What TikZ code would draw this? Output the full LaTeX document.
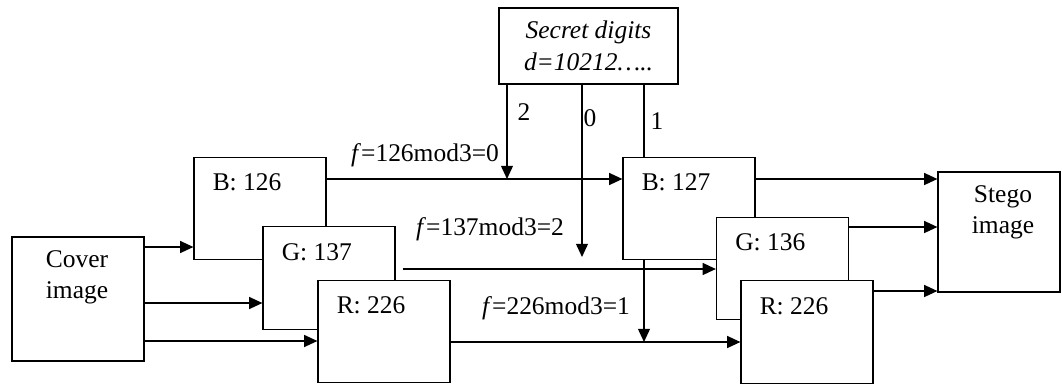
\documentclass[tikz,border=0pt]{standalone}
\usepackage{fontspec}
\setmainfont{Liberation Serif}
\usepackage{tikz}
\usetikzlibrary{arrows.meta,positioning,backgrounds}

\tikzset{
  box/.style={draw, fill=white, inner sep=0pt, line width=0.7pt},
  chan/.style={box, minimum width=2.64cm, minimum height=2.05cm},
  txt/.style={font=\fontsize{14.5}{17.6}\selectfont, inner sep=0pt},
  arr/.style={line width=0.7pt, -{Triangle[length=7.5pt,width=6.8pt]}},
  ln/.style={line width=0.7pt}
}

\begin{document}
\begin{tikzpicture}
  \begin{scope}[x=0.02cm, y=-0.02cm]
    \useasboundingbox (0,0) rectangle (1062,383);

    % Cover image
    \node[box, minimum width=2.64cm, minimum height=2.48cm] (cover) at (78,299) {};
    \node[txt, align=center] (covert) at (77,277) {Cover\\image};

    % Channels of the cover pixel
    \node[chan] (b1) at (260,208.5) {};
    \node[txt, anchor=west] (b1t) at ([shift={(19,26)}]b1.north west) {B: 126};
    \node[chan] (g1) at (329,278) {};
    \node[txt, anchor=west] (g1t) at ([shift={(19,26)}]g1.north west) {G: 137};
    \node[chan] (r1) at (384,331.5) {};
    \node[txt, anchor=west] (r1t) at ([shift={(19,26)}]r1.north west) {R: 226};

    % Secret digits
    \node[box, txt, font=\fontsize{14.5}{18}\selectfont\itshape, align=center,
          minimum width=3.58cm, minimum height=1.52cm] (secret) at (588.5,46)
          {Secret digits\\d=10212\ldots..};

    % Channels of the stego pixel
    \node[chan] (b2) at (689,208.5) {};
    \node[txt, anchor=west] (b2t) at ([shift={(19,26)}]b2.north west) {B: 127};
    \node[chan] (g2) at (782.5,268.5) {};
    \node[txt, anchor=west] (g2t) at ([shift={(19,26)}]g2.north west) {G: 136};
    \node[chan] (r2) at (807,332) {};
    \node[txt, anchor=west] (r2t) at ([shift={(19,26)}]r2.north west) {R: 226};

    % Stego image
    \node[box, minimum width=2.44cm, minimum height=2.4cm] (stego) at (999,232) {};
    \node[txt, align=center] (stegot) at (1003,212.5) {Stego\\image};

    % Extraction function labels
    \node[txt] (f1) at (425,155) {\textit{f}=126mod3=0};
    \node[txt] (f2) at (490,229) {\textit{f}=137mod3=2};
    \node[txt] (f3) at (556,308) {\textit{f}=226mod3=1};

    % Digit labels
    \node[txt] (n2) at (524,112) {2};
    \node[txt] (n0) at (590,118) {0};
    \node[txt] (n1) at (657,121) {1};

    % Levels of the lines
    \coordinate (lB) at (0,179);
    \coordinate (lG) at (0,269);
    \coordinate (lR) at (0,342);
    \coordinate (x2) at (507,0);
    \coordinate (x0) at (582,0);
    \coordinate (x1) at (644,0);
    \coordinate (tip0) at (582,257);

    \begin{scope}[on background layer]
      % Cover into channels
      \draw[arr] (cover.east |- 0,247) -- (b1.west |- 0,247);
      \draw[arr] (cover.east |- 0,303) -- (g1.west |- 0,303);
      \draw[arr] (cover.east |- 0,341) -- (r1.west |- 0,341);

      % Channels across
      \draw[arr] (b1.east |- lB) -- (b2.west |- lB);
      \draw[arr] ([xshift=0.14cm]g1.east |- lG) -- (g2.west |- lG);
      \draw[arr] (r1.east |- lR) -- (r2.west |- lR);

      % Digits down
      \draw[arr] (secret.south -| x2) -- (x2 |- lB);
      \draw[arr] (secret.south -| x0) -- (tip0);
      \draw[arr] (secret.south -| x1) -- (x1 |- lR);

      % Into stego image
      \draw[arr] (b2.east |- 0,179) -- (stego.west |- 0,179);
      \draw[arr] (g2.east |- 0,227) -- (stego.west |- 0,227);
      \draw[arr] (r2.east |- 0,291) -- (stego.west |- 0,291);
    \end{scope}
  \end{scope}
\end{tikzpicture}
\end{document}
